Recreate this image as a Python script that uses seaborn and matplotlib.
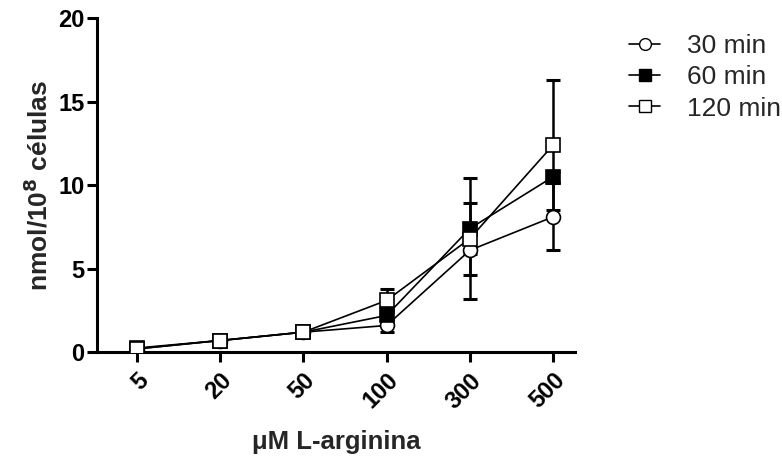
import matplotlib
matplotlib.use("Agg")
import matplotlib.pyplot as plt
import seaborn as sns
import pandas as pd
import numpy as np

concentrations = ["5", "20", "50", "100", "300", "500"]
series_names = ["30 min", "60 min", "120 min"]
mean_30 = [0.2, 0.7, 1.2, 1.6, 6.1, 8.1]
sem_30 = [0.05, 0.05, 0.05, 0.4, 1.5, 2.0]
mean_60 = [0.25, 0.7, 1.2, 2.2, 7.4, 10.5]
sem_60 = [0.05, 0.05, 0.05, 0.3, 1.5, 0.3]
mean_120 = [0.2, 0.7, 1.2, 3.1, 6.8, 12.4]
sem_120 = [0.05, 0.05, 0.05, 0.7, 3.6, 3.9]

means = [mean_30, mean_60, mean_120]
sems = [sem_30, sem_60, sem_120]
styles = [
    dict(marker="o", mfc="white", ms=10),
    dict(marker="s", mfc="black", ms=10),
    dict(marker="s", mfc="white", ms=10),
]

sns.set_style("ticks")
plt.rcParams["font.family"] = ["Liberation Sans", "DejaVu Sans"]

fig = plt.figure(figsize=(7.82, 4.61), dpi=100)
ax = fig.add_axes([0.124, 0.236, 0.611, 0.725])

xpos = np.arange(len(concentrations))
handles = []
for name, m, s, st in zip(series_names, means, sems, styles):
    df = pd.DataFrame({"x": xpos, "y": m})
    ax.errorbar(xpos, m, yerr=s, fmt="none", ecolor="black", elinewidth=1.8,
                capsize=5, capthick=2.2, zorder=2)
    sns.lineplot(data=df, x="x", y="y", ax=ax, color="black", lw=1.2,
                 marker=st["marker"], markersize=st["ms"],
                 markerfacecolor=st["mfc"], markeredgecolor="black",
                 markeredgewidth=1.2, zorder=3)
    h, = ax.plot([], [], color="black", lw=1.2, marker=st["marker"],
                 markersize=st["ms"] * 0.85, markerfacecolor=st["mfc"],
                 markeredgecolor="black", markeredgewidth=1.0)
    handles.append(h)

ax.set_xlim(-0.48, 5.26)
ax.set_ylim(0, 20)
ax.set_yticks([0, 5, 10, 15, 20])
ax.set_xticks(xpos)
ax.set_xticklabels(concentrations, rotation=45, ha="right", rotation_mode="anchor",
                   fontsize=17, fontweight="bold")
for lbl in ax.get_yticklabels():
    lbl.set_fontsize(17)
    lbl.set_fontweight("bold")
ax.tick_params(axis="both", direction="out", length=7, width=2.2, colors="black")
ax.tick_params(axis="x", pad=5)
ax.tick_params(axis="y", pad=2)
for sp in ["left", "bottom"]:
    ax.spines[sp].set_linewidth(2.2)
    ax.spines[sp].set_color("black")
sns.despine(ax=ax)

ax.set_xlabel("\u03bcM L-arginina", fontsize=18.5, fontweight="bold", labelpad=12)
ax.set_ylabel("nmol/10$^\\mathbf{8}$ células", fontsize=19, fontweight="bold", labelpad=4)

ax.legend(handles, series_names, loc="upper left", bbox_to_anchor=(1.08, 1.0),
          frameon=False, fontsize=19, handlelength=1.2, labelspacing=0.28,
          borderaxespad=0.2, handletextpad=1.0)

fig.savefig("out.png", dpi=100)
